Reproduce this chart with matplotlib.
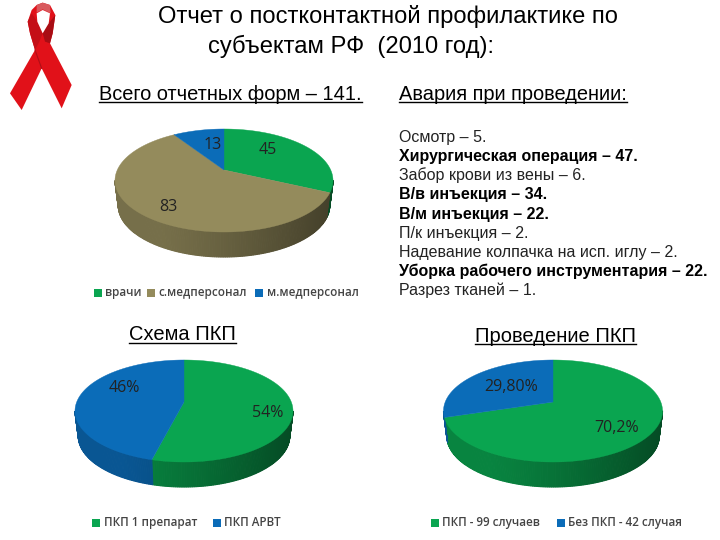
import numpy as np
import matplotlib
matplotlib.use('Agg')
import matplotlib.pyplot as plt
from matplotlib.colors import to_rgb

plt.rcParams['font.family'] = ['Liberation Sans', 'DejaVu Sans']

staff_labels = ['врачи', 'с.медперсонал', 'м.медперсонал']
staff_values = [45, 83, 13]
staff_texts = ['45', '83', '13']

scheme_labels = ['ПКП 1 препарат', 'ПКП АРВТ']
scheme_values = [54, 46]
scheme_texts = ['54%', '46%']

done_labels = ['ПКП - 99 случаев', 'Без ПКП - 42 случая']
done_values = [70.2, 29.8]
done_texts = ['70,2%', '29,80%']

accidents = ['Осмотр – 5.', 'Хирургическая операция – 47.', 'Забор крови из вены – 6.',
             'В/в инъекция – 34.', 'В/м инъекция – 22.', 'П/к инъекция – 2.',
             'Надевание колпачка на исп. иглу – 2.',
             'Уборка рабочего инструментария – 22.', 'Разрез тканей – 1.']
accidents_bold = [False, True, False, True, True, False, False, True, False]

GREEN = '#0aa550'
OLIVE = '#948b5c'
BLUE = '#0b6cb8'

fig = plt.figure(figsize=(7.2, 5.4), dpi=100)
ax = fig.add_axes([0, 0, 1, 1])
ax.set_xlim(0, 720)
ax.set_ylim(540, 0)
ax.axis('off')


def project(theta, cx, cy, w, top, bottom):
    # perspective view of a circle, apex sits above the middle of the ellipse
    up = cy - top
    down = bottom - cy
    c = (down - up) / (down + up)
    p = up * (1 + c)
    k = w * np.sqrt(1 - c ** 2)
    x = np.cos(theta)
    y = np.sin(theta)
    return cx + k * x / (1 + c * y), cy - p * y / (1 + c * y)


def pie3d(values, colors, cx, cy, w, top, bottom, depth):
    total = sum(values)
    start = np.pi / 2
    spans = []
    for v, col in zip(values, colors):
        end = start - 2 * np.pi * v / total
        spans.append((start, end, col))
        start = end

    # the rim is widest where sin(theta) = -c, the wall starts there
    c = ((bottom - cy) - (cy - top)) / (bottom - top)
    shrink = 0.97
    for a, b, col in spans:
        th = np.linspace(a, b, max(int((a - b) * 60), 2))
        for t0, t1 in zip(th[:-1], th[1:]):
            if np.sin((t0 + t1) / 2) > -c:
                continue
            x0, y0 = project(t0, cx, cy, w, top, bottom)
            x1, y1 = project(t1, cx, cy, w, top, bottom)
            f = ((x0 + x1) / 2 - (cx - w)) / (2 * w)
            shade = 0.8 - 0.45 * max(f - 0.2, 0) ** 1.2
            rgb = np.array(to_rgb(col)) * shade
            bx0 = cx + (x0 - cx) * shrink
            bx1 = cx + (x1 - cx) * shrink
            ax.fill([x0, x1, bx1, bx0], [y0, y1, y1 + depth, y0 + depth],
                    color=rgb, lw=0.8, zorder=2)

    for a, b, col in spans:
        th = np.linspace(a, b, 200)
        x, y = project(th, cx, cy, w, top, bottom)
        ax.fill(np.r_[cx, x], np.r_[cy, y], color=col, lw=0.3, zorder=3)


def legend_row(labels, colors, xs, y):
    for lab, col, x in zip(labels, colors, xs):
        ax.fill([x, x + 8, x + 8, x], [y - 4, y - 4, y + 4, y + 4], color=col, lw=0)
        ax.text(x + 11.5, y, lab, fontsize=8.4, color='#444444', family='Open Sans',
                weight='semibold', va='center', ha='left')


def underlined(x, y, s, size):
    t = ax.text(x, y, s, fontsize=size, ha='left', va='baseline', color='black')
    box = t.get_window_extent(fig.canvas.get_renderer())
    ax.plot([box.x0, box.x1], [y + 2.3, y + 2.3], color='black', lw=1.0, zorder=4)


pie3d(staff_values, [GREEN, OLIVE, BLUE], 224, 170, 109, 129, 232, 25)
pie3d(scheme_values, [GREEN, BLUE], 184, 402, 109, 360, 462, 25)
pie3d(done_values, [GREEN, BLUE], 553, 402, 109.5, 360, 462, 25)

num = dict(fontsize=11.5, family='Open Sans', color='#222222', ha='center', va='center', zorder=5)
for s, px, py in zip(staff_texts, [268, 168, 213], [150, 207, 145]):
    ax.text(px, py, s, **num)
for s, px, py in zip(scheme_texts, [268, 124], [413, 388]):
    ax.text(px, py, s, **num)
for s, px, py in zip(done_texts, [617, 511], [428, 387]):
    ax.text(px, py, s, **num)

legend_row(staff_labels, [GREEN, OLIVE, BLUE], [94, 147, 255], 292.5)
legend_row(scheme_labels, [GREEN, BLUE], [92, 213], 522.5)
legend_row(done_labels, [GREEN, BLUE], [431, 557], 522.5)

# titles
ax.text(158, 23.5, 'Отчет о постконтактной профилактике по', fontsize=17.1, ha='left', va='baseline')
ax.text(208, 52.5, 'субъектам РФ  (2010 год):', fontsize=17.1, ha='left', va='baseline')
underlined(99, 99.7, 'Всего отчетных форм – 141.', 14.45)
underlined(399, 99.7, 'Авария при проведении:', 14.4)
underlined(129, 340.5, 'Схема ПКП', 14.5)
underlined(475, 341.5, 'Проведение ПКП', 14.5)

for i, (line, bold) in enumerate(zip(accidents, accidents_bold)):
    ax.text(399, 141.7 + 19.2 * i, line, fontsize=11.55, ha='left', va='baseline',
            weight='bold' if bold else 'normal', color='black' if bold else '#222222')

ribbon = np.array([(128, 8), (150, 15), (166, 45), (158, 100), (150, 130), (215, 255),
                   (185, 325), (125, 205), (65, 330), (30, 280), (105, 150), (90, 100),
                   (83, 65), (95, 30), (110, 15)]) / 3
hole = np.array([(128, 30), (150, 40), (146, 70), (128, 100), (112, 65), (110, 40)]) / 3
shadow = np.array([(128, 100), (146, 70), (166, 45), (158, 100), (150, 130), (135, 125)]) / 3
shadow2 = np.array([(112, 65), (128, 100), (118, 125), (105, 150), (90, 100), (83, 65), (95, 40)]) / 3
shine = np.array([(110, 15), (128, 8), (150, 15), (152, 40), (128, 28), (110, 38)]) / 3
ax.fill(ribbon[:, 0], ribbon[:, 1], color='#e11119', lw=0)
ax.fill(shadow[:, 0], shadow[:, 1], color='#a80d14', lw=0)
ax.fill(shadow2[:, 0], shadow2[:, 1], color='#c40f17', lw=0)
ax.fill(shine[:, 0], shine[:, 1], color='#d85a5e', lw=0)
ax.fill(hole[:, 0], hole[:, 1], color='white', lw=0)
ax.plot(np.array([105, 125]) / 3, np.array([150, 205]) / 3, color='#b00e16', lw=0.8)

fig.savefig('out.png', dpi=100, facecolor='white')
